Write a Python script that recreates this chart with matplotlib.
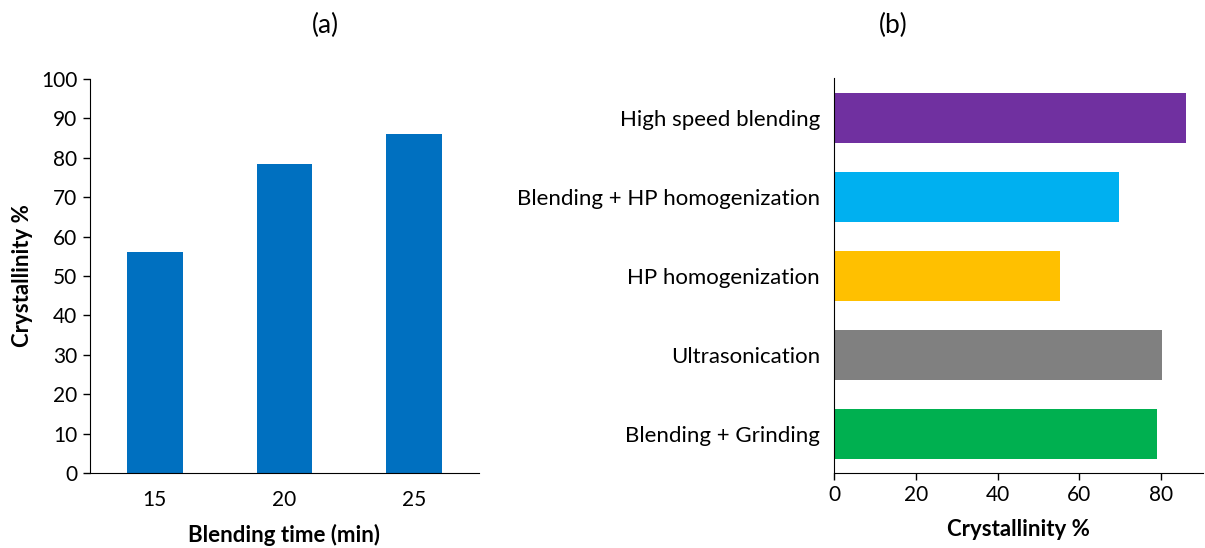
import matplotlib
matplotlib.use("Agg")
import matplotlib.pyplot as plt

plt.rcParams['font.family'] = ['Lato', 'DejaVu Sans']

# Data
blend_times = ["15", "20", "25"]
blend_cryst = [56.2, 78.4, 86.0]

methods = ["Blending + Grinding", "Ultrasonication", "HP homogenization",
           "Blending + HP homogenization", "High speed blending"]
method_cryst = [79.0, 80.2, 55.2, 69.7, 86.1]
method_colors = ["#00B050", "#808080", "#FFC000", "#00B0F0", "#7030A0"]

W, H = 1205, 548
fig = plt.figure(figsize=(W / 100, H / 100), dpi=100)

# (a)
ax1 = fig.add_axes([90 / W, 1 - 473 / H, 389 / W, 394 / H])
ax1.bar(range(len(blend_times)), blend_cryst, width=0.43, color="#0070C0")
ax1.set_xlim(-0.5, 2.5)
ax1.set_ylim(0, 100)
ax1.set_yticks(range(0, 101, 10))
ax1.set_xticks(range(len(blend_times)))
ax1.set_xticklabels(blend_times)
ax1.tick_params(axis='x', length=0, labelsize=15, pad=12)
ax1.tick_params(axis='y', length=5, labelsize=15, width=1, pad=4)
for s in ["top", "right"]:
    ax1.spines[s].set_visible(False)
ax1.set_ylabel("Crystallinity %", fontsize=16, fontweight="bold", labelpad=6)
ax1.set_xlabel("Blending time (min)", fontsize=16, fontweight="bold", labelpad=10)
fig.text(325 / W, 1 - 25 / H, "(a)", fontsize=19, ha="center", va="center")

# (b)
ax2 = fig.add_axes([834 / W, 1 - 473.3 / H, 369 / W, 395 / H])
ax2.barh(range(len(methods)), method_cryst, height=0.64, color=method_colors)
ax2.set_ylim(-0.5, 4.5)
ax2.set_xlim(0, 90.2)
ax2.set_xticks(range(0, 81, 20))
ax2.set_yticks(range(len(methods)))
ax2.set_yticklabels(methods)
ax2.tick_params(axis='y', length=0, labelsize=16, pad=10)
ax2.tick_params(axis='x', length=5, labelsize=15, width=1)
for s in ["top", "right"]:
    ax2.spines[s].set_visible(False)
ax2.set_xlabel("Crystallinity %", fontsize=16, fontweight="bold", labelpad=10)
fig.text(893 / W, 1 - 25 / H, "(b)", fontsize=19, ha="center", va="center")

fig.savefig("out.png", dpi=100)
